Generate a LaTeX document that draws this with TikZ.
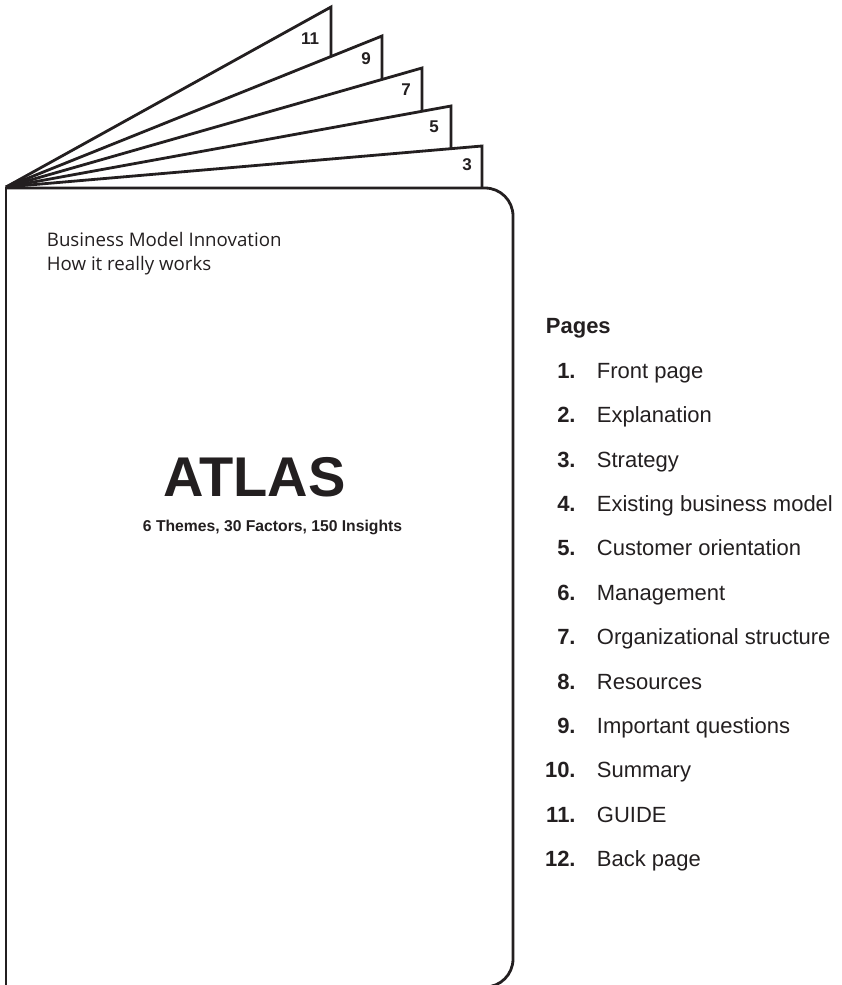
\documentclass[tikz,border=0pt]{standalone}
\usepackage{fontspec}
\setmainfont{Liberation Sans}
\newfontfamily\coverfont{Open Sans}
\definecolor{ink}{RGB}{35,31,32}
\begin{document}
\begin{tikzpicture}[x=1pt,y=-1pt,line width=2.8pt,ink,
  tabnum/.style={inner sep=0pt,font=\fontsize{17}{17}\selectfont\bfseries},
  num/.style={anchor=base east,inner sep=0pt,font=\fontsize{22}{22}\selectfont\bfseries},
  item/.style={anchor=base west,inner sep=0pt,font=\fontsize{22}{22}\selectfont},
  cover/.style={anchor=base west,inner sep=0pt,font=\coverfont\fontsize{18.7}{18.7}\selectfont}]
\useasboundingbox (0,0) rectangle (842,985);
\coordinate (apex) at (6,187);
\coordinate (p11) at (331,7);
\coordinate (b11) at (331,188);
\coordinate (p9) at (382,36);
\coordinate (b9) at (382,188);
\coordinate (p7) at (422,68);
\coordinate (b7) at (422,188);
\coordinate (p5) at (451,106);
\coordinate (b5) at (451,188);
\coordinate (p3) at (482,146);
\coordinate (b3) at (482,188);
% pages, back to front
\draw[fill=white] (apex) -- (p11) -- (b11);
\draw[fill=white] (apex) -- (p9) -- (b9);
\draw[fill=white] (apex) -- (p7) -- (b7);
\draw[fill=white] (apex) -- (p5) -- (b5);
\draw[fill=white] (apex) -- (p3) -- (b3);
\node[tabnum] (t11) at (310,39) {11};
\node[tabnum] (t9) at (366,59) {9};
\node[tabnum] (t7) at (406,90) {7};
\node[tabnum] (t5) at (434,127) {5};
\node[tabnum] (t3) at (467,165) {3};
% cover
\draw[rounded corners=28pt] (6,188) -- (513,188) -- (513,987) -- (6,987);
\draw[line cap=rect] (6,188) -- (6,987);
\node[cover] (bmi) at (45.5,246) {Business Model Innovation};
\node[cover] (hiw) at (45.5,270.7) {How it really works};
\node[anchor=base,inner sep=0pt,font=\fontsize{56}{56}\selectfont\bfseries] (atlas) at (254.5,496.7) {ATLAS};
\node[anchor=base,inner sep=0pt,font=\fontsize{15.7}{15.7}\selectfont\bfseries] (sub) at (272.5,531.7) {6 Themes, 30 Factors, 150 Insights};
% list of pages
\node[item,font=\fontsize{22}{22}\selectfont\bfseries] (pages) at (544.5,333.3) {Pages};
\node[num] (n1) at (577,378.3) {1.};
\node[item] (i1) at (595.5,378.3) {Front page};
\node[num] (n2) at (577,422.7) {2.};
\node[item] (i2) at (595.5,422.7) {Explanation};
\node[num] (n3) at (577,467.1) {3.};
\node[item] (i3) at (595.5,467.1) {Strategy};
\node[num] (n4) at (577,511.5) {4.};
\node[item] (i4) at (595.5,511.5) {Existing business model};
\node[num] (n5) at (577,555.9) {5.};
\node[item] (i5) at (595.5,555.9) {Customer orientation};
\node[num] (n6) at (577,600.3) {6.};
\node[item] (i6) at (595.5,600.3) {Management};
\node[num] (n7) at (577,644.7) {7.};
\node[item] (i7) at (595.5,644.7) {Organizational structure};
\node[num] (n8) at (577,689.1) {8.};
\node[item] (i8) at (595.5,689.1) {Resources};
\node[num] (n9) at (577,733.5) {9.};
\node[item] (i9) at (595.5,733.5) {Important questions};
\node[num] (n10) at (577,777.9) {10.};
\node[item] (i10) at (595.5,777.9) {Summary};
\node[num] (n11) at (577,822.3) {11.};
\node[item] (i11) at (595.5,822.3) {GUIDE};
\node[num] (n12) at (577,866.7) {12.};
\node[item] (i12) at (595.5,866.7) {Back page};
\end{tikzpicture}
\end{document}
